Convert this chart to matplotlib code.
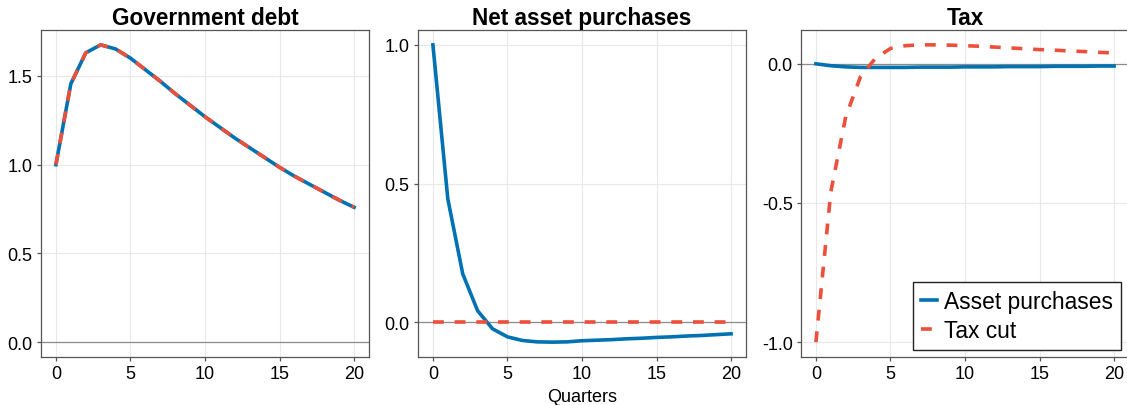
import matplotlib.pyplot as plt

plt.rcParams['font.family'] = ['Liberation Sans', 'DejaVu Sans']
plt.rcParams['axes.unicode_minus'] = False

quarters = list(range(21))

# asset purchase shock
debt_ap = [1.0, 1.455, 1.63, 1.675, 1.652, 1.60, 1.535, 1.47, 1.40, 1.335, 1.27,
           1.21, 1.15, 1.095, 1.04, 0.985, 0.935, 0.89, 0.845, 0.80, 0.76]
purch_ap = [1.0, 0.445, 0.175, 0.042, -0.023, -0.052, -0.065, -0.070, -0.071, -0.070, -0.066,
            -0.064, -0.062, -0.059, -0.057, -0.054, -0.052, -0.049, -0.047, -0.044, -0.041]
tax_ap = [0.0, -0.007, -0.011, -0.013, -0.013, -0.013, -0.013, -0.012, -0.012, -0.012, -0.011,
          -0.011, -0.011, -0.010, -0.010, -0.010, -0.009, -0.009, -0.009, -0.008, -0.008]

# tax cut shock
debt_tc = debt_ap
purch_tc = [0.0] * 21
tax_tc = [-1.0, -0.46, -0.19, -0.045, 0.02, 0.055, 0.065, 0.068, 0.068, 0.067, 0.065,
          0.063, 0.06, 0.057, 0.054, 0.051, 0.049, 0.046, 0.044, 0.041, 0.039]

titles = ["Government debt", "Net asset purchases", "Tax"]
yticks = [[0.0, 0.5, 1.0, 1.5], [0.0, 0.5, 1.0], [-1.0, -0.5, 0.0]]

blue = '#0072b2'
red = '#ec4f3a'

fig = plt.figure(figsize=(11.27, 4.06), dpi=100)
W, H = 1127, 406
lefts = [41, 418, 801]
axes = [fig.add_axes([l / W, 1 - 358 / H, 328 / W, 327 / H]) for l in lefts]

series = [(debt_ap, debt_tc), (purch_ap, purch_tc), (tax_ap, tax_tc)]
for ax, (ap, tc), title, yt in zip(axes, series, titles, yticks):
    ax.grid(True, color='#e8e8e8', lw=0.8)
    ax.set_axisbelow(True)
    ax.axhline(0, color='#8c8c8c', lw=0.9, zorder=1)
    ax.plot(quarters, ap, color=blue, lw=2.6, label='Asset purchases', zorder=3)
    ax.plot(quarters, tc, color=red, lw=2.6, dashes=(3, 3), label='Tax cut', zorder=4)
    ax.set_xticks([0, 5, 10, 15, 20])
    ax.set_yticks(yt)
    ax.set_yticklabels([f"{v:.1f}" for v in yt])
    ax.set_title(title, fontsize=16.3, fontweight='bold', pad=4)
    ax.tick_params(labelsize=13, length=3, width=0.9, color='#555555', pad=3)
    for s in ax.spines.values():
        s.set_color('#555555')
        s.set_linewidth(0.9)

axes[1].set_xlabel("Quarters", fontsize=13, labelpad=4)

axes[2].legend(loc='lower right', bbox_to_anchor=(1121 / W, 1 - 351 / H),
               bbox_transform=fig.transFigure, borderaxespad=0, fontsize=16.4,
               handlelength=0.7, handletextpad=0.3, fancybox=False, framealpha=1,
               edgecolor='#222222', borderpad=0.35, labelspacing=0.25)

fig.savefig('out.png', dpi=100)
